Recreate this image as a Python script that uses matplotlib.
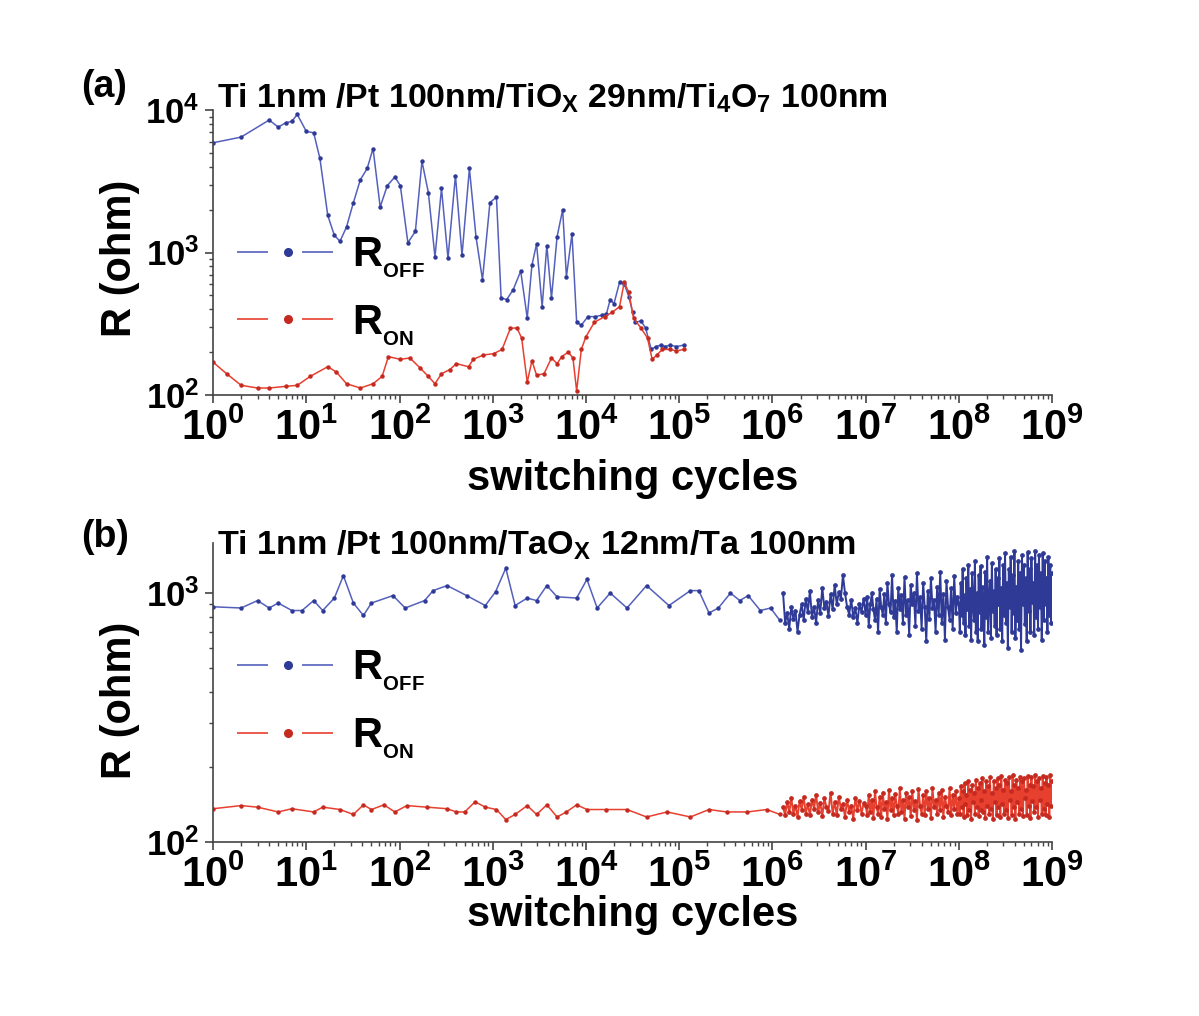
import numpy as np
import matplotlib
matplotlib.use('Agg')
import matplotlib.pyplot as plt
from matplotlib.lines import Line2D
from matplotlib.ticker import LogLocator, FuncFormatter, NullFormatter

plt.rcParams['font.family'] = 'Liberation Sans'
plt.rcParams['font.weight'] = 'bold'
plt.rcParams['mathtext.fontset'] = 'custom'
for k in ('rm', 'it', 'bf', 'sf'):
    plt.rcParams['mathtext.' + k] = 'Liberation Sans:bold'

# ---- panel (a): TiOx device ----
a_off_cycles = [1, 2, 4, 5, 6, 7, 8, 10, 12, 14, 17, 20, 23, 27, 32, 38, 45, 52, 62, 74,
                89, 102, 123, 148, 174, 204, 240, 282, 331, 398, 468, 562, 661, 776, 933,
                1096, 1230, 1413, 1660, 1995, 2344, 2630, 2951, 3388, 3802, 4266, 4898,
                5623, 6166, 7079, 7943, 8913, 10471, 12589, 14791, 16596, 18197, 19953,
                22909, 25704, 28840, 31623, 33884, 38905, 43652, 50119, 56234, 63096,
                70795, 79433, 93325, 112202]
a_off = [5890, 6460, 8510, 7590, 8130, 8320, 9330, 7080, 6920, 4570, 1820, 1320, 1200, 1510,
         2240, 3240, 3890, 5370, 2090, 2950, 3390, 2950, 1170, 1410, 4370, 2630, 930, 2820,
         910, 3470, 955, 3890, 1290, 645, 2240, 2450, 479, 468, 550, 741, 347, 813, 1150,
         417, 1120, 479, 1290, 2000, 676, 1350, 324, 309, 355, 355, 363, 372, 468, 437,
         617, 603, 490, 380, 324, 331, 295, 209, 219, 224, 219, 224, 219, 224]

a_on_cycles = [1, 1.4, 2, 3, 4, 6, 8, 11, 17, 21, 27, 38, 52, 65, 76, 102, 129, 166, 204,
               240, 282, 347, 407, 550, 617, 794, 1023, 1259, 1549, 1820, 2042, 2344, 2630,
               2951, 3548, 4266, 4898, 5495, 6457, 7244, 7943, 8913, 10000, 12303, 15849,
               19055, 22909, 25704, 28840, 32359, 38905, 45709, 51286, 57544, 66069, 79433,
               93325, 112202]
a_on = [170, 141, 117, 112, 112, 115, 117, 135, 158, 145, 120, 112, 120, 135, 186, 178, 182,
        155, 135, 120, 141, 151, 166, 158, 178, 191, 195, 209, 295, 295, 251, 123, 174, 138,
        141, 182, 166, 186, 200, 182, 107, 209, 257, 324, 355, 380, 417, 617, 525, 347, 295,
        251, 178, 191, 209, 209, 204, 209]

# ---- panel (b): TaOx device ----
b_off_cycles = [1, 2, 3, 4, 5, 7, 9, 12, 15, 20, 25, 32, 41, 50, 85, 115, 186, 229, 324, 525,
                832, 1072, 1380, 1738, 2344, 2951, 3802, 4898, 7943, 10233, 13183, 18197,
                27542, 44668, 77625, 131826, 162181, 208930, 263027, 354813, 446684, 549541,
                741310, 954993, 1202264]
b_off = [881, 871, 933, 871, 912, 851, 851, 933, 851, 955, 1175, 912, 813, 912, 977, 871,
         933, 1023, 1072, 977, 891, 1012, 1259, 891, 955, 933, 1072, 966, 955, 1135, 871,
         1000, 871, 1072, 891, 1023, 1023, 832, 871, 1000, 933, 977, 851, 871, 776]

b_on_cycles = [1, 2, 3, 5, 7, 12, 15, 23, 32, 41, 50, 68, 89, 120, 195, 324, 407, 501, 646,
               832, 1096, 1380, 1738, 2344, 2951, 3802, 4898, 6166, 7943, 10233, 16596, 27542,
               44668, 74131, 131826, 208930, 323594, 537032, 870964, 1202264]
b_on = [136, 140, 138, 132, 136, 132, 138, 135, 129, 141, 135, 141, 132, 140, 138, 136, 132,
        132, 145, 138, 135, 123, 129, 140, 129, 141, 126, 132, 141, 135, 135, 135, 126, 132,
        126, 135, 132, 132, 135, 129]

# dense part of (b), one list per decade 1e6-1e7, 1e7-1e8, 1e8-1e9
b_off_d6 = [1000, 760, 830, 720, 880, 790, 850, 700, 820, 900, 780, 950, 840, 1020, 800, 880,
            760, 940, 830, 1050, 870, 920, 810, 990, 860, 1080, 900, 1010, 950, 1180, 1000,
            880, 820, 940, 800, 870, 760, 900, 840, 950]
b_off_d7 = [820, 960, 740, 900, 1000, 860, 780, 950, 700, 1040, 880, 820, 990, 760, 1100, 900,
            840, 1180, 800, 930, 700, 1050, 860, 980, 760, 1160, 820, 940, 680, 1080, 900, 1000,
            740, 1200, 850, 960, 720, 1100, 880, 640, 1020, 790, 1150, 870, 940, 700, 1060, 820,
            1210, 760, 990, 650, 1120, 880, 780, 1050, 720, 1170, 830, 960]
b_off_d8 = [900, 700, 1100, 820, 1250, 760, 980, 680, 1150, 860, 1300, 740, 1040, 650, 1200,
            900, 780, 1350, 700, 1000, 640, 1180, 840, 1280, 720, 1060, 880, 620, 1220, 800,
            1400, 700, 960, 1120, 660, 1320, 850, 1020, 740, 1250, 680, 1150, 900, 1380, 720,
            1050, 640, 1300, 820, 1450, 760, 1100, 600, 1250, 880, 1400, 700, 1180, 830, 1480,
            660, 1060, 780, 1350, 720, 1200, 590, 1420, 900, 1300, 750, 1150, 640, 1460, 850,
            1250, 700, 1380, 920, 1100, 680, 1480, 800, 1300, 720, 1420, 880, 1200, 650, 1450,
            780, 1350, 900, 1150, 700, 1400, 820, 1300, 760, 1200]
b_on_d6 = [138, 128, 145, 132, 150, 130, 140, 126, 146, 135, 152, 130, 142, 128, 148, 136, 155,
           132, 144, 127, 150, 138, 133, 158, 130, 145, 128, 152, 136, 142, 126, 148, 132, 140,
           124, 150, 135, 146, 130, 143]
b_on_d7 = [140, 128, 155, 132, 148, 125, 160, 138, 130, 152, 126, 158, 136, 145, 124, 162, 134,
           150, 128, 156, 140, 130, 165, 132, 148, 124, 158, 138, 152, 127, 160, 135, 146, 123,
           163, 140, 130, 155, 128, 160, 136, 150, 125, 165, 138, 148, 130, 158, 134, 162, 126,
           152, 140, 132, 164, 128, 155, 136, 160, 130]
b_on_d8 = [150, 130, 168, 138, 160, 126, 172, 142, 155, 128, 175, 135, 162, 124, 170, 145, 158,
           130, 178, 138, 165, 127, 172, 148, 135, 180, 132, 160, 125, 175, 140, 168, 130, 182,
           136, 158, 124, 176, 145, 165, 128, 180, 138, 170, 126, 184, 142, 162, 130, 178, 134,
           172, 125, 182, 148, 160, 128, 185, 138, 170, 124, 178, 145, 165, 130, 183, 136, 175,
           127, 180, 150, 162, 128, 184, 140, 170, 125, 182, 146, 168, 132, 185, 138, 176, 126,
           180, 148, 165, 130, 184, 136, 172, 128, 182, 142, 170, 126, 185, 140, 175]

blue = '#5460bc'
blue_dk = '#2e3a96'
red = '#e8402f'
red_dk = '#c42a20'


def dense(d6, d7, d8):
    # readings spread evenly over each decade
    x = np.concatenate([np.geomspace(1.3e6, 1e7, len(d6), endpoint=False),
                        np.geomspace(1e7, 1e8, len(d7), endpoint=False),
                        np.geomspace(1e8, 1e9, len(d8))])
    return x, np.array(d6 + d7 + d8, dtype=float)


def setup(ax, ylim):
    ax.set_xscale('log')
    ax.set_yscale('log')
    ax.set_xlim(1, 1e9)
    ax.set_ylim(*ylim)
    for s in ('top', 'right'):
        ax.spines[s].set_visible(False)
    for s in ('left', 'bottom'):
        ax.spines[s].set_color('#444444')
        ax.spines[s].set_linewidth(1.2)
    for axis in (ax.xaxis, ax.yaxis):
        axis.set_major_locator(LogLocator(base=10, numticks=20))
        axis.set_minor_locator(LogLocator(base=10, subs=np.arange(2, 10), numticks=20))
        axis.set_minor_formatter(NullFormatter())
        axis.set_major_formatter(FuncFormatter(
            lambda v, p: r'$\mathbf{10^{%d}}$' % round(np.log10(v))))
    ax.tick_params(which='major', direction='out', length=6, width=1.2, color='#444444', pad=4)
    ax.tick_params(which='minor', direction='out', length=3, width=1.0, color='#444444')
    ax.tick_params(axis='x', labelsize=30)
    ax.tick_params(axis='y', labelsize=25)
    ax.set_xlabel('switching cycles', fontsize=30, fontweight='bold')
    ax.set_ylabel('R (ohm)', fontsize=30, fontweight='bold')


def add_legend(ax, anchor):
    h1 = Line2D([], [], color=blue, lw=1.2, ls=(0, (18.6, 20.4)), marker='o', ms=5.5,
                mfc=blue_dk, mec=blue_dk)
    h2 = Line2D([], [], color=red, lw=1.2, ls=(0, (18.6, 20.4)), marker='o', ms=5.5,
                mfc=red_dk, mec=red_dk)
    ax.legend([h1, h2], [r'R$_{{}_{\mathrm{OFF}}}$', r'R$_{{}_{\mathrm{ON}}}$'],
              loc='upper left', bbox_to_anchor=anchor, frameon=False, fontsize=30,
              handlelength=2.45, handletextpad=0.3, labelspacing=0.55, borderpad=0,
              borderaxespad=0, numpoints=1)


fig = plt.figure(figsize=(11.99, 10.16), dpi=100)
ax1 = fig.add_axes([0.1777, 0.6112, 0.6998, 0.2805])
ax2 = fig.add_axes([0.1777, 0.1713, 0.6998, 0.2943])

# panel (a)
setup(ax1, (100, 1e4))
ax1.plot(a_off_cycles, a_off, '-', color=blue, lw=1.1, marker='o', ms=2.2,
         mfc=blue_dk, mec=blue_dk)
ax1.plot(a_on_cycles, a_on, '-', color=red, lw=1.1, marker='o', ms=2.2,
         mfc=red_dk, mec=red_dk)
add_legend(ax1, (0.029, 0.56))
ax1.text(0.005, 1.01, r'Ti 1nm /Pt 100nm/TiO$_{X}$ 29nm/Ti$_{4}$O$_{7}$ 100nm',
         transform=ax1.transAxes, fontsize=24.4, fontweight='bold', va='baseline')
ax1.xaxis.set_label_coords(0.5, -0.225)
ax1.yaxis.set_label_coords(-0.087, 0.48)

# panel (b)
setup(ax2, (100, 1590))
xo, yo = dense(b_off_d6, b_off_d7, b_off_d8)
xr, yr = dense(b_on_d6, b_on_d7, b_on_d8)
ax2.plot(b_off_cycles, b_off, '-', color=blue, lw=1.1, marker='o', ms=2.2,
         mfc=blue_dk, mec=blue_dk)
ax2.plot(xo, yo, '-', color=blue_dk, lw=1.4, marker='o', ms=2.4, mfc=blue_dk, mec=blue_dk)
ax2.plot(b_on_cycles, b_on, '-', color=red, lw=1.1, marker='o', ms=2.2,
         mfc=red_dk, mec=red_dk)
ax2.plot(xr, yr, '-', color=red, lw=1.4, marker='o', ms=2.4, mfc=red_dk, mec=red_dk)
add_legend(ax2, (0.029, 0.647))
ax2.text(0.005, 0.96, r'Ti 1nm /Pt 100nm/TaO$_{X}$ 12nm/Ta 100nm',
         transform=ax2.transAxes, fontsize=24.6, fontweight='bold', va='baseline')
ax2.xaxis.set_label_coords(0.5, -0.177)
ax2.yaxis.set_label_coords(-0.087, 0.475)

fig.text(0.068, 0.9045, '(a)', fontsize=27, fontweight='bold')
fig.text(0.068, 0.462, '(b)', fontsize=27, fontweight='bold')

plt.savefig('out.png', dpi=100)
